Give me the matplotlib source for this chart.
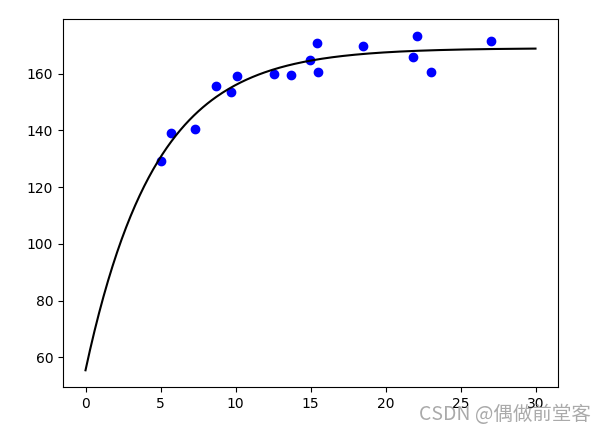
import numpy as np
import matplotlib
matplotlib.use("Agg")
import matplotlib.pyplot as plt

# scatter data
x_data = [5.02, 5.69, 7.29, 8.69, 9.67, 10.13, 12.55, 13.69, 14.95, 15.42,
          15.49, 18.49, 21.82, 22.13, 23.02, 27.02]
y_data = [129.3, 139.1, 140.6, 155.8, 153.6, 159.3, 160.0, 159.5, 164.8, 170.8,
          160.6, 169.9, 165.9, 173.4, 160.6, 171.5]

# fitted curve y = a - b*exp(-c*x), fitted to the scatter data
xd = np.array(x_data)
yd = np.array(y_data)
best = None
for c in np.linspace(0.01, 1.0, 2000):
    A = np.column_stack([np.ones_like(xd), -np.exp(-c * xd)])
    coef, res, *_ = np.linalg.lstsq(A, yd, rcond=None)
    r = np.sum((A @ coef - yd) ** 2)
    if best is None or r < best[0]:
        best = (r, c, coef)
_, c_fit, (a_fit, b_fit) = best

x_curve = np.linspace(0, 30, 300)
y_curve = a_fit - b_fit * np.exp(-c_fit * x_curve)

fig = plt.figure(figsize=(6.06, 4.37), dpi=100)
ax = fig.add_axes([63 / 606, (437 - 387) / 437, 495 / 606, 368 / 437])
ax.plot(x_data, y_data, 'o', color='blue')
ax.plot(x_curve, y_curve, color='black')

fig.text(591 / 606, (437 - 420) / 437, "CSDN @偶做前堂客", ha='right', va='baseline',
         fontsize=14, color='#aaaaaa',
         family=['Noto Sans CJK SC', 'DejaVu Sans'])

fig.savefig("out.png", dpi=100)
